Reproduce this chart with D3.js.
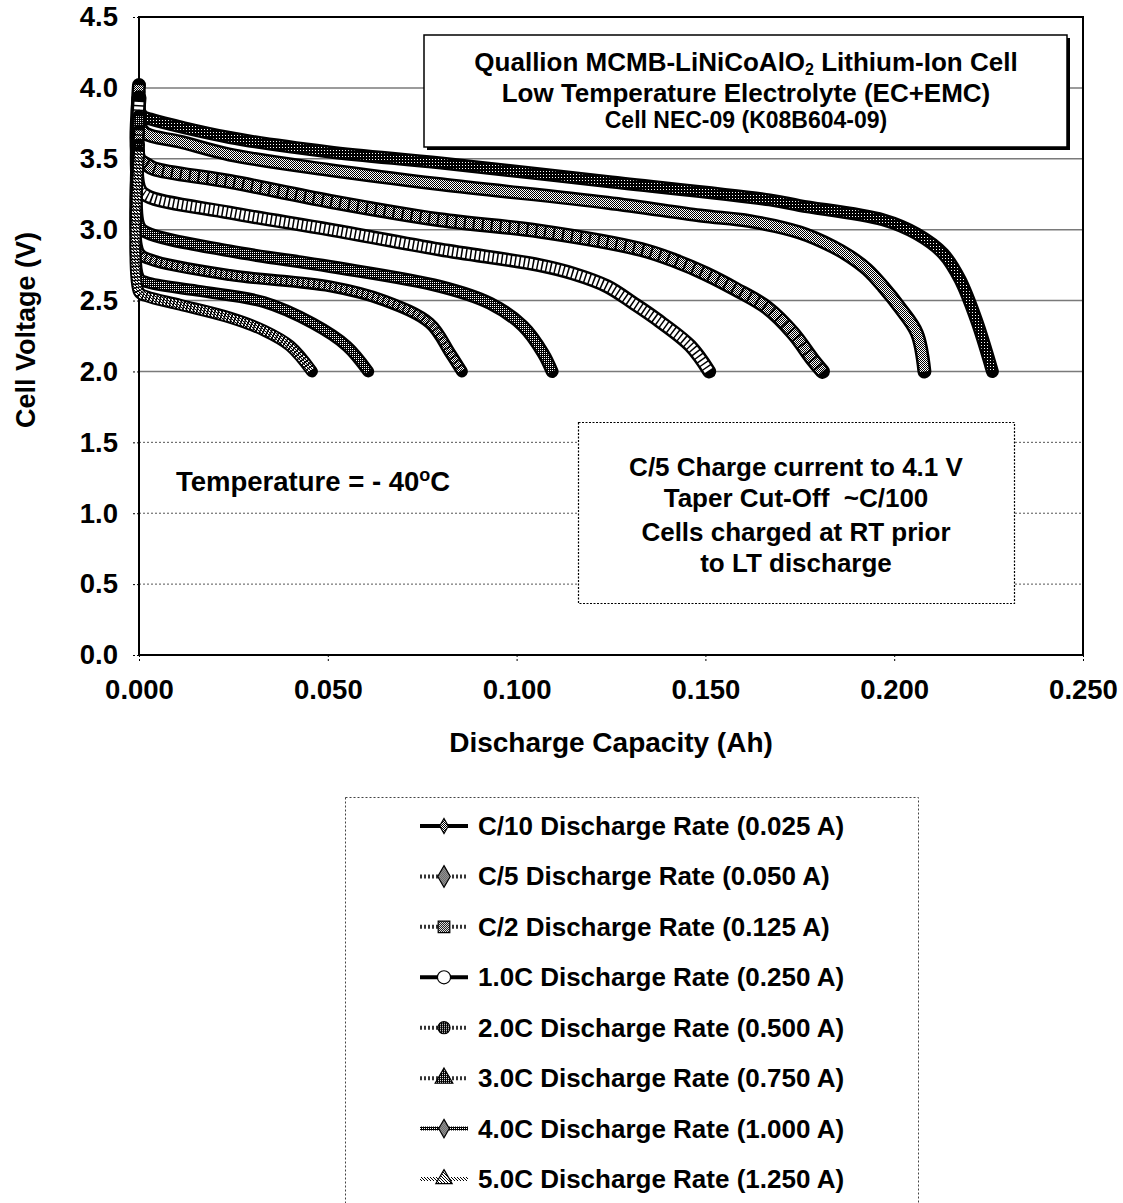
<!DOCTYPE html>
<html><head><meta charset="utf-8">
<script src="https://cdn.jsdelivr.net/npm/d3@7"></script>
<style>
body{margin:0;background:#fff}
svg{display:block}
text{font-family:"Liberation Sans",Arial,sans-serif;font-weight:bold;fill:#000}
</style>
</head><body>
<svg id="chart" width="1123" height="1203"></svg>
<script>
// ---- data (capacity Ah, voltage V) ----
const seriesNames = ["C/10 Discharge Rate (0.025 A)","C/5 Discharge Rate (0.050 A)","C/2 Discharge Rate (0.125 A)","1.0C Discharge Rate (0.250 A)","2.0C Discharge Rate (0.500 A)","3.0C Discharge Rate (0.750 A)","4.0C Discharge Rate (1.000 A)","5.0C Discharge Rate (1.250 A)"];
const rateC10 = [[0,3.97],[0,3.85],[0.001,3.80],[0.003,3.78],[0.024,3.65],[0.050,3.55],[0.080,3.47],[0.124,3.34],[0.167,3.21],[0.175,3.17],[0.197,3.07],[0.206,2.97],[0.213,2.83],[0.2174,2.65],[0.2218,2.36],[0.226,2.00]];
const rateC5  = [[0,4.02],[0,3.75],[0.0016,3.68],[0.011,3.62],[0.024,3.53],[0.0506,3.42],[0.080,3.32],[0.124,3.19],[0.1486,3.10],[0.1618,3.06],[0.175,2.98],[0.1838,2.88],[0.1883,2.81],[0.1928,2.72],[0.197,2.60],[0.2015,2.45],[0.206,2.27],[0.208,2.00]];
const rateC2  = [[0,3.93],[0,3.50],[0.002,3.46],[0.004,3.43],[0.024,3.34],[0.0506,3.20],[0.0797,3.07],[0.106,2.99],[0.133,2.86],[0.142,2.78],[0.150,2.69],[0.158,2.58],[0.1663,2.45],[0.1732,2.27],[0.1785,2.08],[0.181,2.00]];
const rate1C  = [[0,3.90],[0,3.30],[0.002,3.24],[0.024,3.12],[0.0506,3.00],[0.0797,2.86],[0.106,2.75],[0.115,2.69],[0.124,2.60],[0.131,2.48],[0.137,2.37],[0.146,2.18],[0.151,2.00]];
const rate2C  = [[0,3.80],[0,3.03],[0.002,2.98],[0.024,2.85],[0.0506,2.74],[0.0797,2.60],[0.093,2.48],[0.1017,2.32],[0.107,2.13],[0.1094,2.00]];
const rate3C  = [[0,3.70],[0,2.84],[0.003,2.79],[0.024,2.68],[0.0506,2.60],[0.065,2.50],[0.077,2.34],[0.0824,2.13],[0.0855,2.00]];
const rate4C  = [[0,3.60],[0,2.66],[0.002,2.63],[0.0154,2.57],[0.033,2.49],[0.046,2.34],[0.055,2.18],[0.0607,2.00]];
const rate5C  = [[0,3.55],[0,2.56],[0.002,2.53],[0.0109,2.47],[0.024,2.38],[0.033,2.29],[0.040,2.18],[0.0458,2.00]];
const seriesData = [rateC10, rateC5, rateC2, rate1C, rate2C, rate3C, rate4C, rate5C];
const xTicks = [0, 0.05, 0.10, 0.15, 0.20, 0.25];
const yTicks = [0, 0.5, 1.0, 1.5, 2.0, 2.5, 3.0, 3.5, 4.0, 4.5];
const titleLines = ["Quallion MCMB-LiNiCoAlO", "Low Temperature Electrolyte (EC+EMC)", "Cell NEC-09 (K08B604-09)"];
const noteLines = ["C/5 Charge current to 4.1 V", "Taper Cut-Off\u00A0 ~C/100", "Cells charged at RT prior", "to LT discharge"];

// ---- layout ----
const svg = d3.select("#chart");
const L = 139, R = 1083, T = 17, B = 655;
const x = d3.scaleLinear().domain([0, 0.25]).range([L, R]);
const y = d3.scaleLinear().domain([0, 4.5]).range([B, T]);

// patterns
const defs = svg.append("defs");
function pat(id, size, bg, cells){
  const p = defs.append("pattern").attr("id", id).attr("patternUnits","userSpaceOnUse").attr("width",size).attr("height",size);
  p.append("rect").attr("width",size).attr("height",size).attr("fill",bg);
  cells.forEach(c => p.append("rect").attr("x",c[0]).attr("y",c[1]).attr("width",c[2]||1).attr("height",c[3]||1).attr("fill",c[4]||"#000"));
}
pat("checker", 2, "#fff", [[0,0],[1,1]]);
pat("dark", 2, "#000", [[0,0,1,1,"#fff"]]);
pat("darker", 3, "#000", [[0,0,1,1,"#fff"]]);
pat("light", 3, "#fff", [[0,0],[1,1],[2,2]]);
pat("grayline", 4, "#fff", [[0,0,2,4,"#333"]]);

// gridlines
yTicks.filter(v => v > 0).forEach(v => {
  const solid = v >= 2.0 && v < 4.5;
  svg.append("line").attr("x1",L).attr("x2",R).attr("y1",y(v)).attr("y2",y(v))
    .attr("stroke", solid ? "#7a7a7a" : "#555").attr("stroke-width", solid ? 1.5 : 1)
    .attr("stroke-dasharray", solid ? null : "2,2");
});

// axes
const yAxis = svg.append("g").attr("transform",`translate(${L},0)`)
  .call(d3.axisLeft(y).tickValues(yTicks).tickFormat(d3.format(".1f")).tickSize(8).tickSizeOuter(0).tickPadding(13));
const xAxis = svg.append("g").attr("transform",`translate(0,${B})`)
  .call(d3.axisBottom(x).tickValues(xTicks).tickFormat(d3.format(".3f")).tickSize(6).tickSizeOuter(0).tickPadding(18));
[yAxis, xAxis].forEach(g => {
  g.select(".domain").remove();
  g.selectAll(".tick line").attr("stroke","#000").attr("stroke-dasharray","2,2");
  g.selectAll("text").attr("font-size",27.5).attr("font-family",'"Liberation Sans",Arial,sans-serif').attr("font-weight","bold").attr("fill","#000");
});

// plot border
svg.append("rect").attr("x",L).attr("y",T).attr("width",R-L).attr("height",B-T)
  .attr("fill","none").attr("stroke","#000").attr("stroke-width",2);

// curves
const line = d3.line().x(d => x(d[0])).y(d => y(d[1])).curve(d3.curveCatmullRom.alpha(0.5));
const styles = [
  {ow:13, inner:"url(#darker)", iw:8, dash:null},
  {ow:14, inner:"url(#checker)", iw:9, dash:null},
  {ow:15, inner:"url(#checker)", iw:10, dash:"7,2"},
  {ow:14, inner:"#fff", iw:9, dash:"3,1.5"},
  {ow:13, inner:"url(#dark)", iw:8, dash:null},
  {ow:12, inner:"url(#checker)", iw:7, dash:"4,1.5"},
  {ow:12, inner:"url(#dark)", iw:7, dash:null},
  {ow:12, inner:"url(#light)", iw:8, dash:"2,1.5"}
];
const cg = svg.append("g");
seriesData.forEach((d, i) => {
  const s = styles[i];
  cg.append("path").attr("d", line(d)).attr("fill","none").attr("stroke","#000")
    .attr("stroke-width", s.ow).attr("stroke-linecap","round").attr("stroke-linejoin","round");
  cg.append("path").attr("d", line(d)).attr("fill","none").attr("stroke", s.inner)
    .attr("stroke-width", s.iw).attr("stroke-linecap","butt").attr("stroke-linejoin","round")
    .attr("stroke-dasharray", s.dash);
});

// axis titles
svg.append("text").attr("x",611).attr("y",752).attr("text-anchor","middle").attr("font-size",28).text("Discharge Capacity (Ah)");
svg.append("text").attr("transform","translate(35,330) rotate(-90)").attr("text-anchor","middle").attr("font-size",27).text("Cell Voltage (V)");

// title box
svg.append("rect").attr("x",427).attr("y",38).attr("width",643).attr("height",112).attr("fill","#000");
svg.append("rect").attr("x",424).attr("y",35).attr("width",643).attr("height",112).attr("fill","#fff").attr("stroke","#000").attr("stroke-width",1.5);
const t1 = svg.append("text").attr("x",746).attr("y",71).attr("text-anchor","middle").attr("font-size",26);
t1.append("tspan").text(titleLines[0]);
t1.append("tspan").attr("font-size",16).attr("dy",4).text("2");
t1.append("tspan").attr("dy",-4).text(" Lithium-Ion Cell");
svg.append("text").attr("x",746).attr("y",102).attr("text-anchor","middle").attr("font-size",26).text(titleLines[1]);
svg.append("text").attr("x",746).attr("y",128).attr("text-anchor","middle").attr("font-size",23).text(titleLines[2]);

// note box
svg.append("rect").attr("x",578.5).attr("y",422.5).attr("width",436).attr("height",181)
  .attr("fill","#fff").attr("stroke","#000").attr("stroke-width",1.2).attr("stroke-dasharray","2,1.5");
[476, 507, 541, 572].forEach((yy, i) => {
  svg.append("text").attr("x",796).attr("y",yy).attr("text-anchor","middle").attr("font-size",26).text(noteLines[i]);
});

// temperature label
const tt = svg.append("text").attr("x",176).attr("y",491).attr("font-size",27.5);
tt.append("tspan").text("Temperature = - 40");
tt.append("tspan").attr("font-size",18).attr("dy",-10).text("o");
tt.append("tspan").attr("dy",10).text("C");

// legend
svg.append("rect").attr("x",345.5).attr("y",797.5).attr("width",573).attr("height",430)
  .attr("fill","#fff").attr("stroke","#444").attr("stroke-width",1).attr("stroke-dasharray","2,2");
const legY = d3.scalePoint().domain(seriesNames).range([826, 1179]);
const legLine = [
  {stroke:"#000", w:4, marker:"diamond", mfill:"url(#checker)", ms:9},
  {stroke:"url(#grayline)", w:4, marker:"diamond", mfill:"url(#checker)", ms:13},
  {stroke:"url(#grayline)", w:4, marker:"square", mfill:"url(#checker)", ms:13},
  {stroke:"#000", w:4, marker:"circle", mfill:"#fff", ms:13},
  {stroke:"url(#grayline)", w:4, marker:"circle", mfill:"url(#dark)", ms:12},
  {stroke:"url(#grayline)", w:4, marker:"triangle", mfill:"url(#dark)", ms:13},
  {stroke:"url(#dark)", w:4, marker:"diamond", mfill:"url(#checker)", ms:11},
  {stroke:"url(#light)", w:4, marker:"triangle", mfill:"url(#light)", ms:12}
];
const symMap = {diamond:d3.symbolDiamond, square:d3.symbolSquare, circle:d3.symbolCircle, triangle:d3.symbolTriangle};
seriesNames.forEach((name, i) => {
  const yy = legY(name), st = legLine[i];
  svg.append("line").attr("x1",420).attr("x2",468).attr("y1",yy).attr("y2",yy)
    .attr("stroke", st.stroke).attr("stroke-width", st.w);
  svg.append("path").attr("transform",`translate(444,${yy})`)
    .attr("d", d3.symbol().type(symMap[st.marker]).size(st.ms*st.ms*0.8)())
    .attr("fill", st.mfill).attr("stroke","#000").attr("stroke-width",1.2);
  svg.append("text").attr("x",478).attr("y",yy+9).attr("font-size",26).text(name);
});
</script>
</body></html>
